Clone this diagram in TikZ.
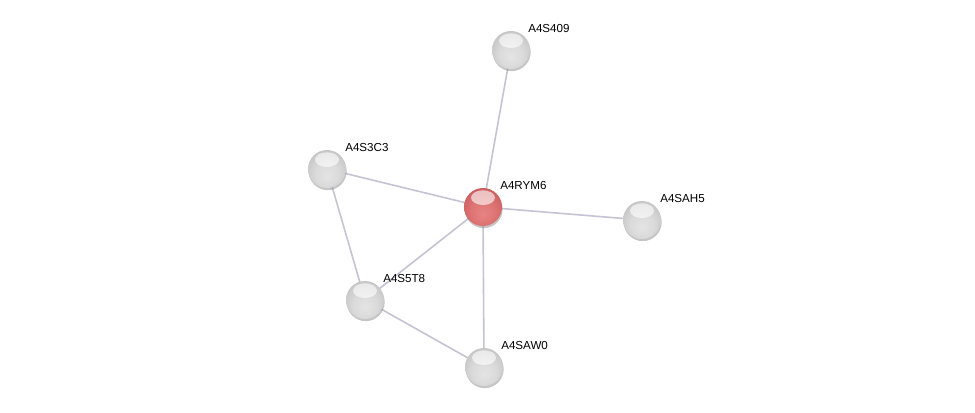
\documentclass[tikz,border=0pt]{standalone}
\usepackage{fontspec}
\setmainfont{Liberation Sans}
\usetikzlibrary{shadows}
\definecolor{edgec}{RGB}{196,196,212}
\definecolor{g0}{RGB}{228,228,228}
\definecolor{g1}{RGB}{218,218,218}
\definecolor{g2}{RGB}{200,200,200}
\definecolor{g3}{RGB}{172,172,172}
\definecolor{g4}{RGB}{140,140,140}
\definecolor{r0}{RGB}{232,132,132}
\definecolor{r1}{RGB}{222,116,116}
\definecolor{r2}{RGB}{206,98,98}
\definecolor{r3}{RGB}{180,76,76}
\definecolor{r4}{RGB}{145,55,55}
\pgfdeclareradialshading{gball}{\pgfpoint{0bp}{-10bp}}{%
  color(0bp)=(g0); color(16bp)=(g1); color(28bp)=(g2);
  color(40bp)=(g3); color(50bp)=(g4)}
\pgfdeclareradialshading{rball}{\pgfpoint{0bp}{-10bp}}{%
  color(0bp)=(r0); color(16bp)=(r1); color(28bp)=(r2);
  color(40bp)=(r3); color(50bp)=(r4)}
\begin{document}
\begin{tikzpicture}[x=0.75pt,y=-0.75pt,
  edge/.style={draw=edgec, line width=1.2pt},
  gloss/.style={path picture={\fill[white, opacity=0.6]
     ([yshift=7pt]path picture bounding box.center) ellipse (9pt and 5.5pt);}},
  prot/.style={circle, minimum size=28.5pt, inner sep=0pt, shading=gball, gloss,
     drop shadow={shadow xshift=0.5pt, shadow yshift=-1.6pt, opacity=0.45}},
  hub/.style={prot, shading=rball},
  lab/.style={anchor=base west, inner sep=0pt, font=\fontsize{8.7}{10}\selectfont}]
\useasboundingbox[fill=white] (0,0) rectangle (975,412);
\coordinate (c409) at (511,50);
\coordinate (c3c3) at (327,169);
\coordinate (cym6) at (483,207);
\coordinate (cah5) at (642,220);
\coordinate (c5t8) at (365,300);
\coordinate (caw0) at (484,367);
\draw[edge] (cym6) -- (c409);
\draw[edge] (cym6) -- (c3c3);
\draw[edge] (cym6) -- (cah5);
\draw[edge] (cym6) -- (c5t8);
\draw[edge] (cym6) -- (caw0);
\draw[edge] (c3c3) -- (c5t8);
\draw[edge] (c5t8) -- (caw0);
\node[prot] (n409) at (c409) {};
\node[prot] (n3c3) at (c3c3) {};
\node[hub] (nym6) at (cym6) {};
\node[prot] (nah5) at (cah5) {};
\node[prot] (n5t8) at (c5t8) {};
\node[prot] (naw0) at (caw0) {};
\node[lab] (l409) at (528,32) {A4S409};
\node[lab] (l3c3) at (345,151) {A4S3C3};
\node[lab] (lym6) at (500,189) {A4RYM6};
\node[lab] (lah5) at (660,202) {A4SAH5};
\node[lab] (l5t8) at (383,282) {A4S5T8};
\node[lab] (law0) at (501,349) {A4SAW0};
\end{tikzpicture}
\end{document}
